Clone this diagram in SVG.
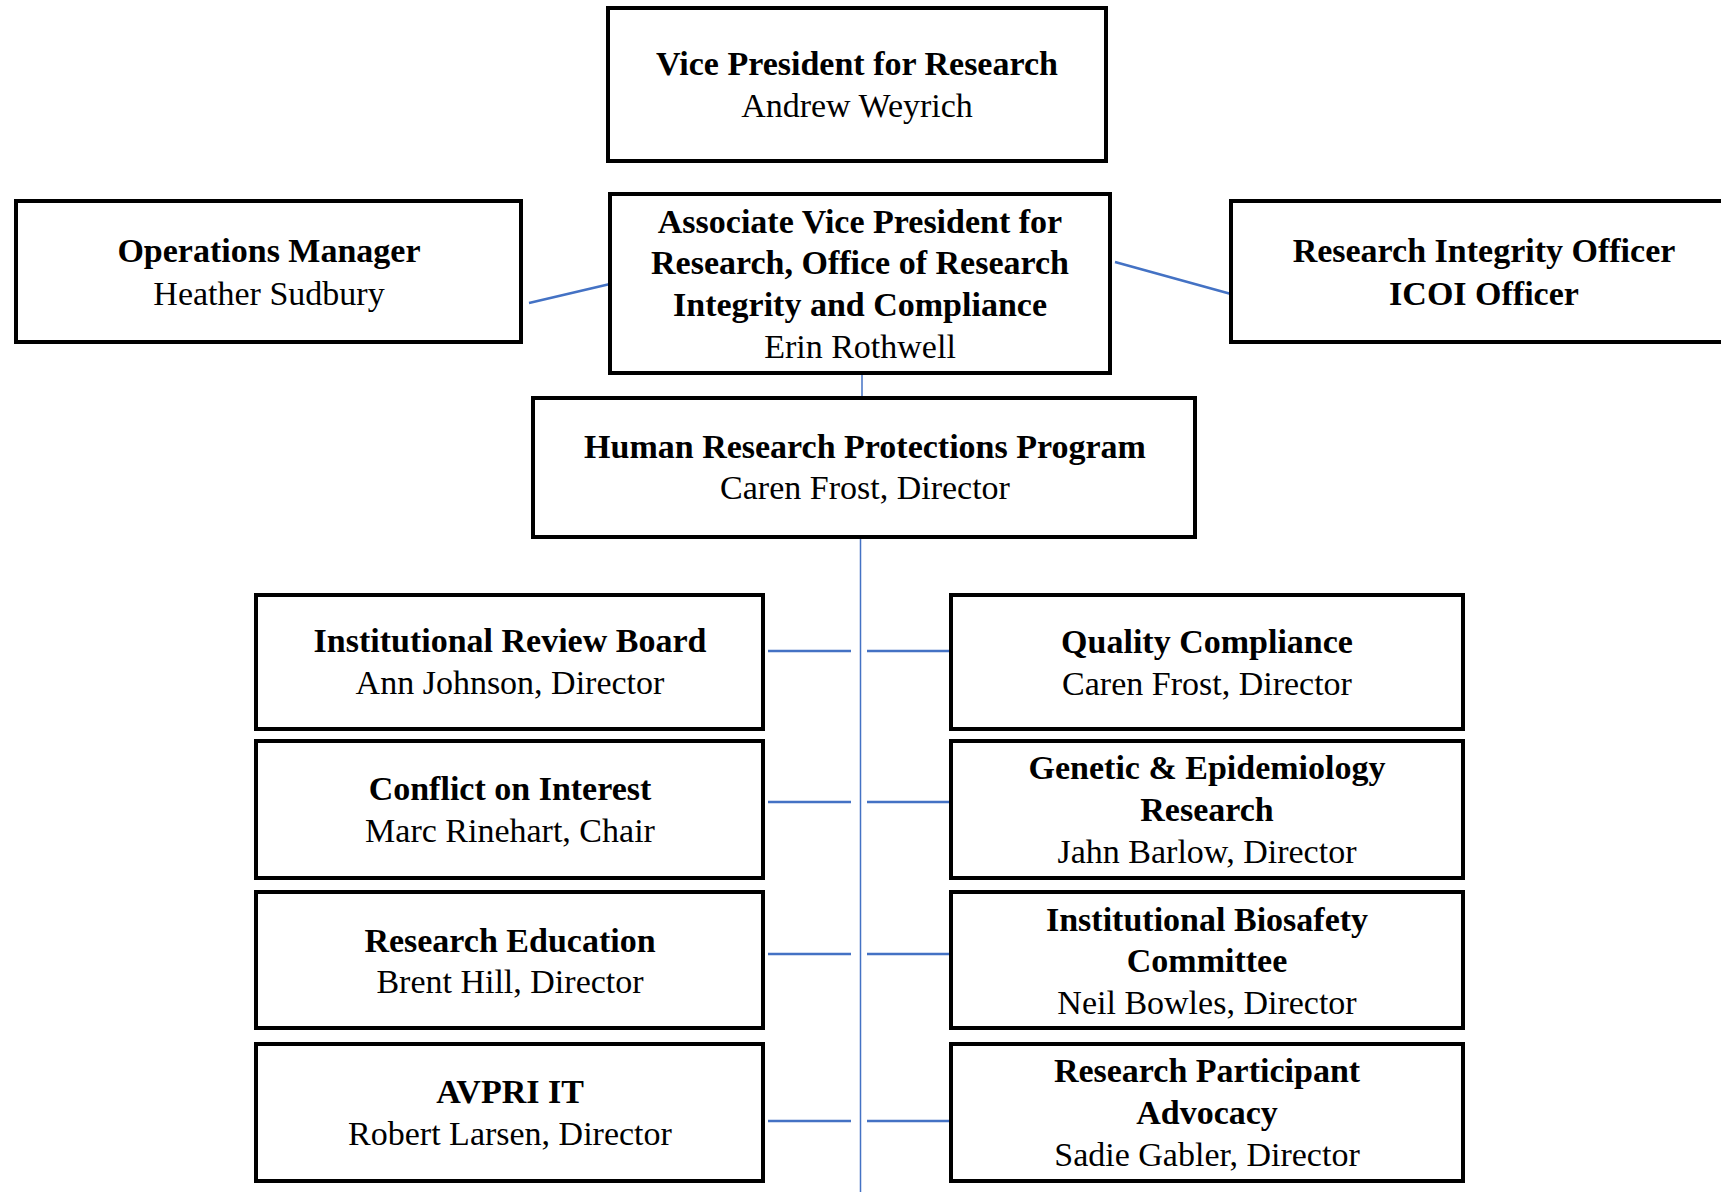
<svg xmlns="http://www.w3.org/2000/svg" width="1721" height="1192" viewBox="0 0 1721 1192">
<style>
.box{fill:#fff;stroke:#000;stroke-width:4}
text{font-family:"Liberation Serif","Times New Roman",serif;font-size:34px;fill:#000;text-anchor:middle}
.b{font-weight:bold}
.c{stroke:#4472C4;fill:none}
.h{stroke-width:2.5}
.v{stroke-width:1.5}
</style>
<rect width="1721" height="1192" fill="#fff"/>
<g id="connectors">
<line class="c h" x1="529" y1="303" x2="610" y2="284"/>
<line class="c h" x1="1115" y1="262" x2="1231" y2="294"/>
<line class="c v" x1="862" y1="373" x2="862" y2="398"/>
<line class="c v" x1="860.5" y1="537" x2="860.5" y2="1192"/>
<line class="c h" x1="768" y1="651" x2="851" y2="651"/>
<line class="c h" x1="867" y1="651" x2="951" y2="651"/>
<line class="c h" x1="768" y1="802" x2="851" y2="802"/>
<line class="c h" x1="867" y1="802" x2="951" y2="802"/>
<line class="c h" x1="768" y1="954" x2="851" y2="954"/>
<line class="c h" x1="867" y1="954" x2="951" y2="954"/>
<line class="c h" x1="768" y1="1121" x2="851" y2="1121"/>
<line class="c h" x1="867" y1="1121" x2="951" y2="1121"/>
</g>
<g id="vpr">
<rect class="box" x="608" y="8" width="498" height="153"/>
<text class="b" x="857" y="75">Vice President for Research</text>
<text x="857" y="117">Andrew Weyrich</text>
</g>
<g id="avp">
<rect class="box" x="610" y="194" width="500" height="179"/>
<text class="b" x="860" y="233">Associate Vice President for</text>
<text class="b" x="860" y="274">Research, Office of Research</text>
<text class="b" x="860" y="316">Integrity and Compliance</text>
<text x="860" y="358">Erin Rothwell</text>
</g>
<g id="ops">
<rect class="box" x="16" y="201" width="505" height="141"/>
<text class="b" x="269" y="262">Operations Manager</text>
<text x="269" y="305">Heather Sudbury</text>
</g>
<g id="rio">
<rect class="box" x="1231" y="201" width="496" height="141"/>
<text class="b" x="1484" y="262">Research Integrity Officer</text>
<text class="b" x="1484" y="305">ICOI Officer</text>
</g>
<g id="hrpp">
<rect class="box" x="533" y="398" width="662" height="139"/>
<text class="b" x="865" y="458">Human Research Protections Program</text>
<text x="865" y="499">Caren Frost, Director</text>
</g>
<g id="irb">
<rect class="box" x="256" y="595" width="507" height="134"/>
<text class="b" x="510" y="652">Institutional Review Board</text>
<text x="510" y="694">Ann Johnson, Director</text>
</g>
<g id="coi">
<rect class="box" x="256" y="741" width="507" height="137"/>
<text class="b" x="510" y="800">Conflict on Interest</text>
<text x="510" y="842">Marc Rinehart, Chair</text>
</g>
<g id="edu">
<rect class="box" x="256" y="892" width="507" height="136"/>
<text class="b" x="510" y="952">Research Education</text>
<text x="510" y="993">Brent Hill, Director</text>
</g>
<g id="it">
<rect class="box" x="256" y="1044" width="507" height="137"/>
<text class="b" x="510" y="1103">AVPRI IT</text>
<text x="510" y="1145">Robert Larsen, Director</text>
</g>
<g id="qc">
<rect class="box" x="951" y="595" width="512" height="134"/>
<text class="b" x="1207" y="653">Quality Compliance</text>
<text x="1207" y="695">Caren Frost, Director</text>
</g>
<g id="ger">
<rect class="box" x="951" y="741" width="512" height="137"/>
<text class="b" x="1207" y="779">Genetic &amp; Epidemiology</text>
<text class="b" x="1207" y="821">Research</text>
<text x="1207" y="863">Jahn Barlow, Director</text>
</g>
<g id="ibc">
<rect class="box" x="951" y="892" width="512" height="136"/>
<text class="b" x="1207" y="931">Institutional Biosafety</text>
<text class="b" x="1207" y="972">Committee</text>
<text x="1207" y="1014">Neil Bowles, Director</text>
</g>
<g id="rpa">
<rect class="box" x="951" y="1044" width="512" height="137"/>
<text class="b" x="1207" y="1082">Research Participant</text>
<text class="b" x="1207" y="1124">Advocacy</text>
<text x="1207" y="1166">Sadie Gabler, Director</text>
</g>
</svg>
